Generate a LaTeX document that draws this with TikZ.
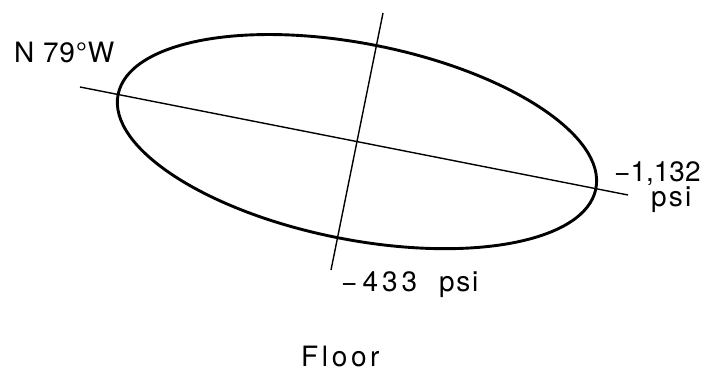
\documentclass[tikz,border=0pt]{standalone}
\usepackage{fontspec}
\setmainfont{TeX Gyre Heros}
\newcommand{\lsp}[2]{{\addfontfeatures{LetterSpace=#1}#2}}
\begin{document}
\begin{tikzpicture}[x=1pt,y=1pt,
  axisline/.style={line width=1.4pt},
  ellipseline/.style={line width=2.9pt},
  lbl/.style={anchor=base west,inner sep=0pt,font=\fontsize{28}{30}\selectfont}]
\useasboundingbox (0,0) rectangle (718,372);
\coordinate (c) at (357,230.4);
\coordinate (majA) at (80,285);
\coordinate (majB) at (628,177);
\coordinate (minA) at (383,359);
\coordinate (minB) at (331,102);
\draw[axisline] (majA) -- (majB);
\draw[axisline] (minA) -- (minB);
\draw[ellipseline, rotate around={-11.15:(c)}] (c) ellipse [x radius=243.5pt, y radius=98pt];
\node[lbl] (dir) at (14,309) {\lsp{3}{N 79°W}};
\node[lbl] (s1) at (614,190) {\vtop{\baselineskip=25pt\lineskiplimit=-100pt
  \hbox{\lsp{0}{−1,132}}\hbox{\hspace*{37pt}\lsp{8}{psi}}}};
\node[lbl] (s2) at (341,80) {\lsp{14}{−\kern5pt 4\kern4pt 33}\hspace{22pt}\lsp{6}{psi}};
\node[lbl] (fl) at (301,5) {\lsp{13}{Floor}};
\end{tikzpicture}
\end{document}
